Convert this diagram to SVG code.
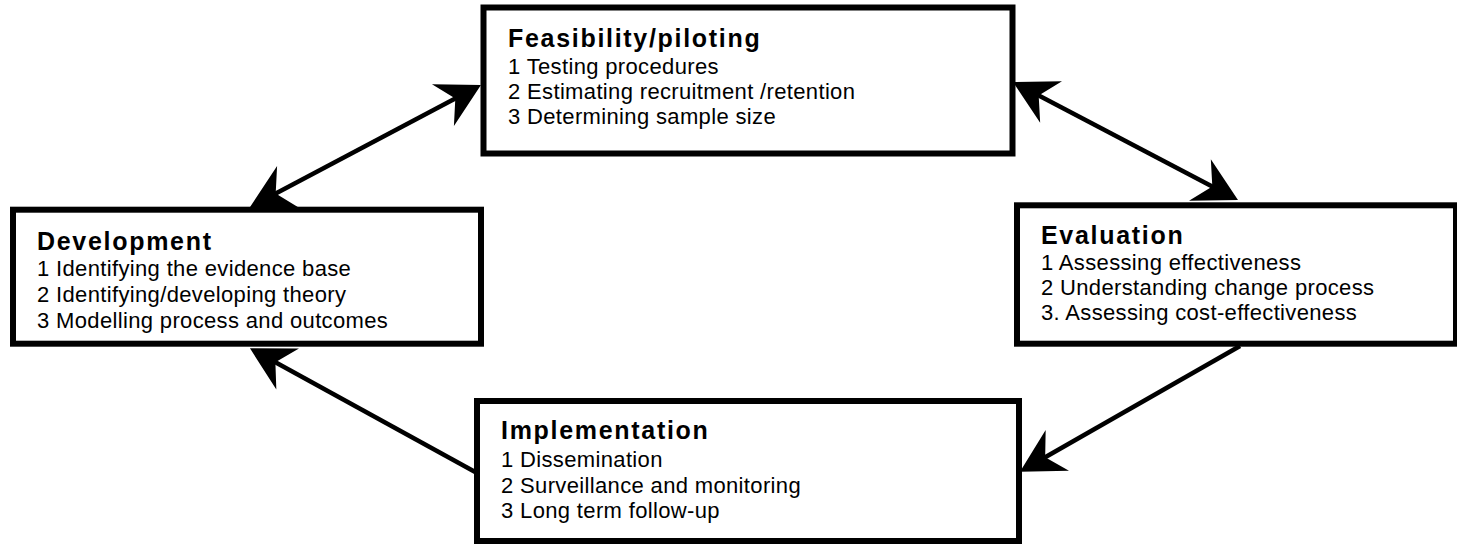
<svg xmlns="http://www.w3.org/2000/svg" width="1457" height="547" viewBox="0 0 1457 547">
<style>
.box{fill:#ffffff;stroke:#000000;stroke-width:6}
.title{font-family:"Liberation Sans",Arial,sans-serif;font-weight:bold;font-size:25px;letter-spacing:1.7px;fill:#000000}
.item{font-family:"Liberation Sans",Arial,sans-serif;font-size:22px;letter-spacing:0.35px;fill:#000000}
.conn{stroke:#000000;stroke-width:4.5;fill:none}
</style>
<defs>
<marker id="ah" markerUnits="userSpaceOnUse" viewBox="-45 -26 50 52" markerWidth="50" markerHeight="52" refX="-28" refY="0" orient="auto-start-reverse">
<path d="M0,0 L-43,-23.5 L-29,0 L-43,23.5 Z" fill="#000000"/>
</marker>
</defs>
<rect width="1457" height="547" fill="#ffffff"/>
<g id="connectors">
<line class="conn" x1="274.8" y1="193.9" x2="456.2" y2="98.1" marker-start="url(#ah)" marker-end="url(#ah)"/>
<line class="conn" x1="1037.8" y1="95" x2="1213.2" y2="187" marker-start="url(#ah)" marker-end="url(#ah)"/>
<line class="conn" x1="1240" y1="346" x2="1044.3" y2="457.8" marker-end="url(#ah)"/>
<line class="conn" x1="477" y1="473" x2="274.5" y2="361.8" marker-end="url(#ah)"/>
</g>
<g id="feasibility">
<rect class="box" x="483.5" y="7.5" width="529" height="146"/>
<text class="title" x="508" y="47">Feasibility/piloting</text>
<text class="item" x="508" y="74">1 Testing procedures</text>
<text class="item" x="508" y="99">2 Estimating recruitment /retention</text>
<text class="item" x="508" y="124">3 Determining sample size</text>
</g>
<g id="development">
<rect class="box" x="13" y="209.7" width="468" height="134"/>
<text class="title" x="37" y="249.5">Development</text>
<text class="item" x="37" y="276">1 Identifying the evidence base</text>
<text class="item" x="37" y="301.5">2 Identifying/developing theory</text>
<text class="item" x="37" y="327.5">3 Modelling process and outcomes</text>
</g>
<g id="evaluation">
<rect class="box" x="1017" y="205.3" width="439" height="138.4"/>
<text class="title" x="1041" y="244">Evaluation</text>
<text class="item" x="1041" y="270">1 Assessing effectiveness</text>
<text class="item" x="1041" y="295">2 Understanding change process</text>
<text class="item" x="1041" y="320">3. Assessing cost-effectiveness</text>
</g>
<g id="implementation">
<rect class="box" x="477" y="401" width="542" height="140"/>
<text class="title" x="501" y="439">Implementation</text>
<text class="item" x="501" y="467">1 Dissemination</text>
<text class="item" x="501" y="492.5">2 Surveillance and monitoring</text>
<text class="item" x="501" y="518">3 Long term follow-up</text>
</g>
</svg>
